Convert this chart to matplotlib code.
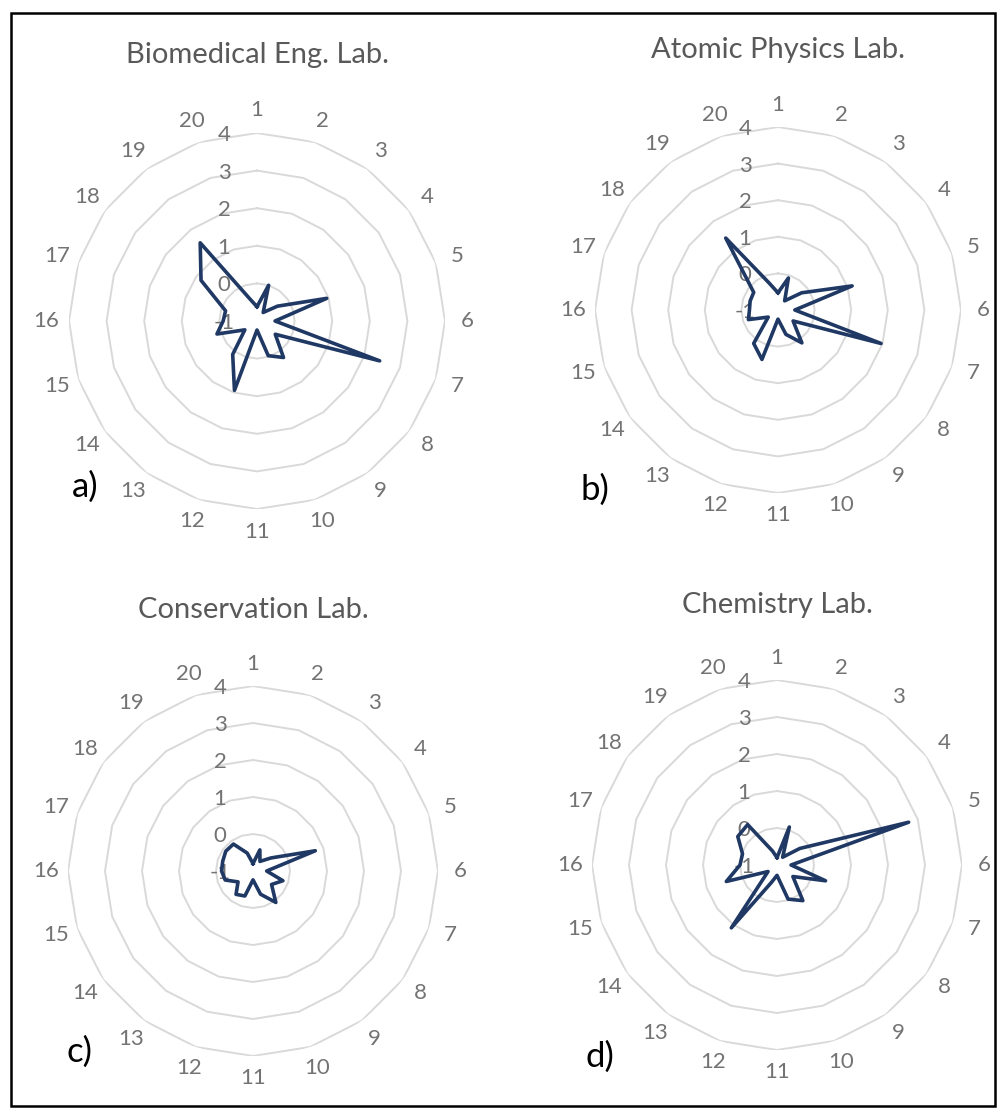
import numpy as np
import matplotlib.pyplot as plt
from matplotlib.patches import Rectangle

plt.rcParams['font.family'] = ['Lato', 'DejaVu Sans']

# axis names 1..20 and the radial scale
cats = [str(i) for i in range(1, 21)]
rings = [-1, 0, 1, 2, 3, 4]

bio = [-0.62, 0.0, -0.72, -0.33, 0.95, -0.52, 2.43, -0.4, 0.2, -0.03,
       -0.76, 0.94, 0.1, -0.6, 0.12, -0.1, -0.12, 0.84, 1.57, -0.38]
atomic = [-0.53, -0.08, -0.69, -0.2, 1.13, -0.54, 1.96, -0.49, 0.11, -0.3,
          -0.75, 0.42, 0.13, -0.67, -0.15, -0.22, -0.2, -0.18, 1.43, -0.23]
conserv = [-0.8, -0.4, -0.68, -0.4, 0.77, -0.63, -0.15, -0.38, 0.05, -0.34,
           -0.76, -0.29, -0.22, -0.5, -0.21, -0.15, -0.14, -0.09, -0.1, -0.49]
chem = [-0.8, 0.08, -0.74, -0.24, 2.74, -0.62, 0.38, -0.47, 0.19, -0.03,
        -0.72, -0.5, 1.1, -0.7, 0.44, 0.0, -0.02, 0.31, 0.35, -0.6]

titles = ['Biomedical Eng. Lab.', 'Atomic Physics Lab.', 'Conservation Lab.', 'Chemistry Lab.']
tags = ['a)', 'b)', 'c)', 'd)']

W, H = 997, 1109
fig = plt.figure(figsize=(W / 100, H / 100), dpi=100)

# pixel layout: centre x, centre y, radius, title y, tag x, tag y
layout = [(257, 321, 188, 55, 85, 487),
          (778, 310, 183, 50, 595, 490),
          (253, 871, 185, 610, 80, 1052),
          (777, 865, 185, 605, 600, 1057)]

theta = np.linspace(0, 2 * np.pi, len(cats), endpoint=False)
theta_c = np.append(theta, theta[0])
grid_c = '#d9d9d9'
txt_c = '#737373'
line_c = '#1f3864'


def radar(vals, title, tag, cx, cy, R, ty, tx, tyy):
    ax = fig.add_axes([(cx - R) / W, 1 - (cy + R) / H, 2 * R / W, 2 * R / H],
                      projection='polar')
    ax.set_theta_zero_location('N')
    ax.set_theta_direction(-1)
    ax.set_ylim(rings[0], rings[-1])
    ax.set_axis_off()
    for v in rings[1:]:
        ax.plot(theta_c, [v] * len(theta_c), color=grid_c, lw=1.4, zorder=1)
    for v in rings:
        ax.annotate(str(v), xy=(0, v), xytext=(-33, -2), textcoords='offset pixels',
                    ha='center', va='center', fontsize=16, color=txt_c)
    for t, c in zip(theta, cats):
        ax.text(t, 4.6, c, ha='center', va='center', fontsize=16, color=txt_c)
    v = np.append(vals, vals[0])
    ax.plot(theta_c, v, color=line_c, lw=2.6, zorder=3)
    fig.text(cx / W, 1 - ty / H, title, ha='center', va='center',
             fontsize=21, color='#595959')
    fig.text(tx / W, 1 - tyy / H, tag, ha='center', va='center',
             fontsize=25, color='black')


for vals, title, tag, lay in zip([bio, atomic, conserv, chem], titles, tags, layout):
    radar(vals, title, tag, *lay)

fig.patches.append(Rectangle((11 / W, 1 - 1106 / H), (995 - 11) / W, (1106 - 13) / H,
                             transform=fig.transFigure, fill=False, ec='black', lw=1.8))

fig.savefig('out.png', dpi=100)
